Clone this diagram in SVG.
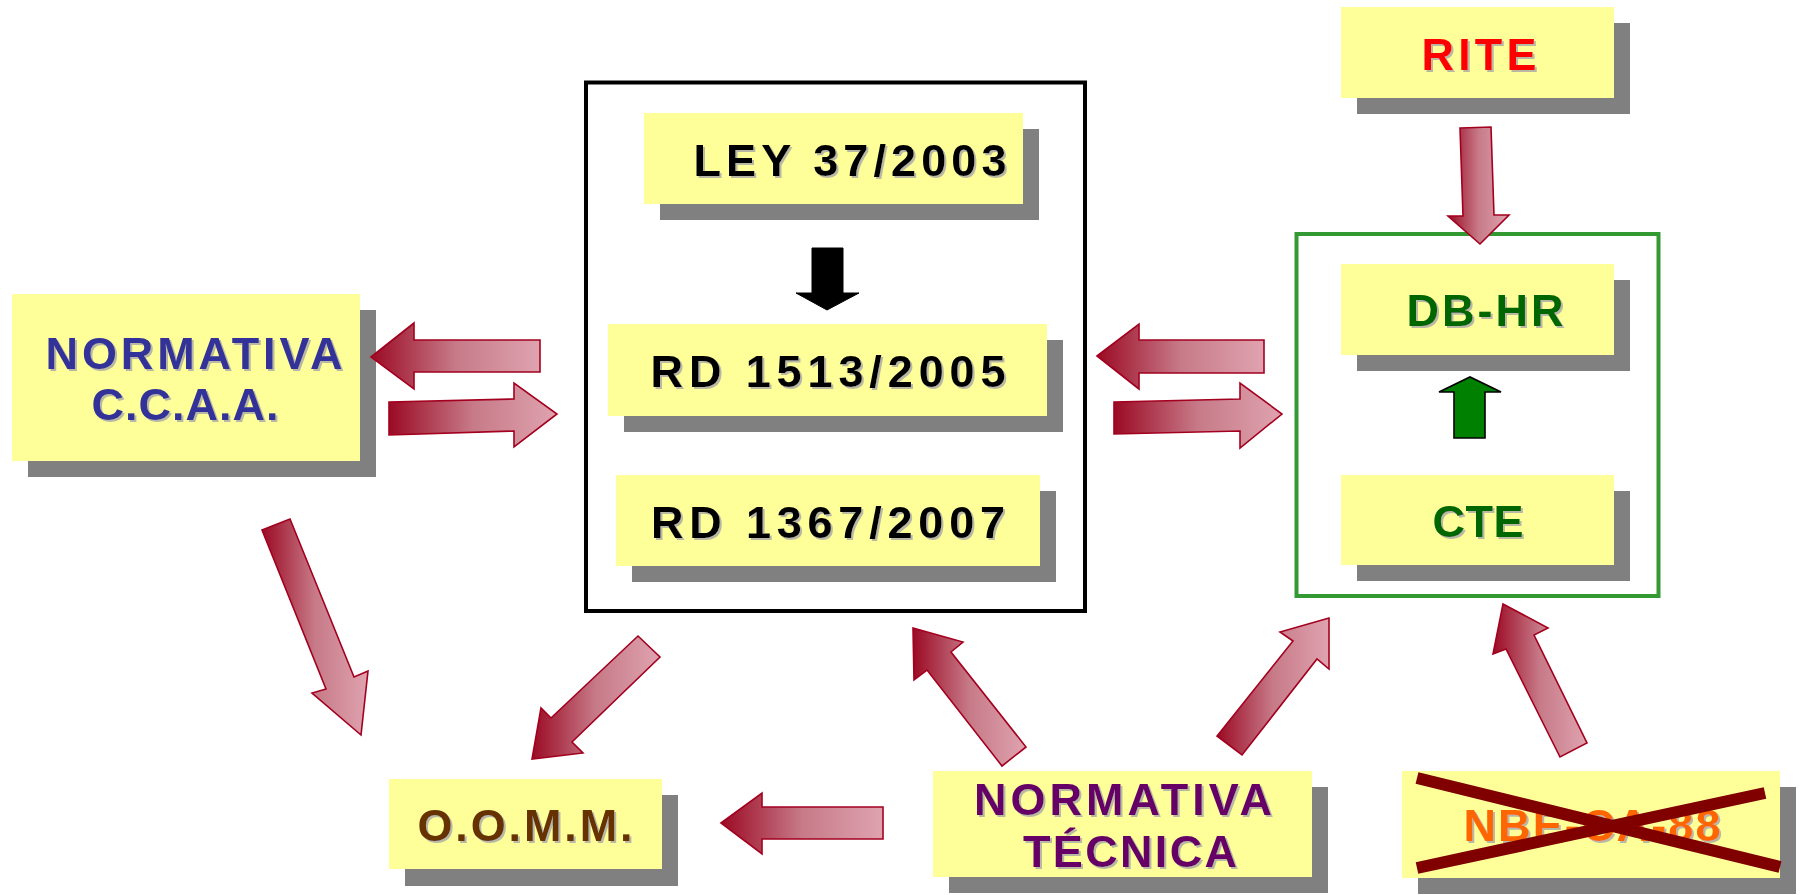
<svg xmlns="http://www.w3.org/2000/svg" width="1806" height="895" viewBox="0 0 1806 895">
<defs>
<linearGradient id="rg" x1="0" y1="0" x2="1" y2="0">
<stop offset="0" stop-color="#9B0A24"/>
<stop offset="0.5" stop-color="#C77A88"/>
<stop offset="1" stop-color="#DFA3AF"/>
</linearGradient>
<filter id="ts" x="-5%" y="-20%" width="110%" height="140%">
<feDropShadow dx="2" dy="2" stdDeviation="0.3" flood-color="#9A9AAA" flood-opacity="0.7"/>
</filter>
<style>
.sh{fill:#808080}
.bx{fill:#FFFF99}
.t{font-family:"Liberation Sans",Arial,sans-serif;font-weight:bold;font-size:45px;text-anchor:middle;filter:url(#ts)}
.ar{fill:url(#rg);stroke:#A3001F;stroke-width:1.6;stroke-linejoin:miter}
</style>
</defs>
<rect width="1806" height="895" fill="#FFFFFF"/>

<g id="frame-central">
<rect x="586" y="82.5" width="499" height="528.5" fill="none" stroke="#000000" stroke-width="4"/>
</g>
<g id="frame-cte">
<rect x="1296.5" y="234" width="362" height="362" fill="none" stroke="#339933" stroke-width="4"/>
</g>

<g id="node-ccaa">
<rect class="sh" x="28" y="310" width="348" height="167"/>
<rect class="bx" x="12" y="294" width="348" height="167"/>
<text class="t" x="194" y="369" fill="#333399" textLength="297" lengthAdjust="spacing">NORMATIVA</text>
<text class="t" x="185" y="420" fill="#333399" textLength="187" lengthAdjust="spacing">C.C.A.A.</text>
</g>

<g id="node-ley">
<rect class="sh" x="660" y="129" width="379" height="91"/>
<rect class="bx" x="644" y="113" width="379" height="91"/>
<text class="t" x="850" y="176" fill="#000000" textLength="313" lengthAdjust="spacing">LEY 37/2003</text>
</g>

<g id="node-rd1513">
<rect class="sh" x="624" y="340" width="439" height="92"/>
<rect class="bx" x="608" y="324" width="439" height="92"/>
<text class="t" x="828" y="387" fill="#000000" textLength="355" lengthAdjust="spacing">RD 1513/2005</text>
</g>

<g id="node-rd1367">
<rect class="sh" x="632" y="491" width="424" height="91"/>
<rect class="bx" x="616" y="475" width="424" height="91"/>
<text class="t" x="828" y="538" fill="#000000" textLength="354" lengthAdjust="spacing">RD 1367/2007</text>
</g>

<g id="node-rite">
<rect class="sh" x="1357" y="23" width="273" height="91"/>
<rect class="bx" x="1341" y="7" width="273" height="91"/>
<text class="t" x="1479" y="70" fill="#FF0000" textLength="115" lengthAdjust="spacing">RITE</text>
</g>

<g id="node-dbhr">
<rect class="sh" x="1357" y="280" width="273" height="91"/>
<rect class="bx" x="1341" y="264" width="273" height="91"/>
<text class="t" x="1485" y="326" fill="#006600" textLength="157" lengthAdjust="spacing">DB-HR</text>
</g>

<g id="node-cte">
<rect class="sh" x="1357" y="491" width="273" height="90"/>
<rect class="bx" x="1341" y="475" width="273" height="90"/>
<text class="t" x="1478" y="537" fill="#006600" textLength="91" lengthAdjust="spacing">CTE</text>
</g>

<g id="node-oomm">
<rect class="sh" x="405" y="795" width="273" height="91"/>
<rect class="bx" x="389" y="779" width="273" height="90"/>
<text class="t" x="525" y="841" fill="#663300" textLength="215" lengthAdjust="spacing">O.O.M.M.</text>
</g>

<g id="node-tecnica">
<rect class="sh" x="949" y="787" width="379" height="106"/>
<rect class="bx" x="933" y="771" width="379" height="106"/>
<text class="t" x="1123" y="815" fill="#660066" textLength="298" lengthAdjust="spacing">NORMATIVA</text>
<text class="t" x="1130" y="867" fill="#660066" textLength="214" lengthAdjust="spacing">TÉCNICA</text>
</g>

<g id="node-nbe">
<rect class="sh" x="1418" y="787" width="378" height="107"/>
<rect class="bx" x="1402" y="771" width="378" height="107"/>
<text class="t" x="1592" y="841" fill="#FF6600" textLength="257" lengthAdjust="spacing">NBE-CA-88</text>
<line x1="1417" y1="778" x2="1780" y2="867" stroke="#800000" stroke-width="12"/>
<line x1="1417" y1="868" x2="1765" y2="793" stroke="#800000" stroke-width="12"/>
</g>

<g id="connectors">
<polygon class="ar" points="371,357 414,323 414,340 540,340 540,372 414,372 414,389"/>
<polygon class="ar" points="389,402 514,399 514,383 557,414 514,447 514,431 389,435"/>
<polygon class="ar" points="1097,356 1139,324 1139,340 1264,340 1264,373 1139,373 1139,389"/>
<polygon class="ar" points="1114,402 1240,399 1240,383 1282,414 1240,448 1240,431 1114,434"/>
<polygon class="ar" points="1460,128 1491,127 1494,215 1509,215 1480,244 1448,216 1463,216"/>
<polygon class="ar" points="913,628 963,642 951,652 1026,747 1002,766 927,670 914,680"/>
<polygon class="ar" points="1329,618 1329,669 1317,659 1242,755 1217,736 1293,641 1280,632"/>
<polygon class="ar" points="1503,604 1548,628 1534,635 1587,743 1560,757 1506,649 1493,654"/>
<polygon class="ar" points="638,636 660,657 572,742 583,753 532,759 541,708 551,718"/>
<polygon class="ar" points="721,823 762,793 762,807 883,807 883,839 762,839 762,854"/>
<polygon class="ar" points="262,530 290,519 354,677 368,671 361,735 312,693 326,689"/>
<polygon points="812,248 843,248 843,293 859,293 827,310 796,293 812,293" fill="#000000" stroke="#000000" stroke-width="1"/>
<polygon points="1454,438 1485,438 1485,392 1501,392 1470,377 1439,392 1454,392" fill="#008000" stroke="#000000" stroke-width="1.6"/>
</g>
</svg>
